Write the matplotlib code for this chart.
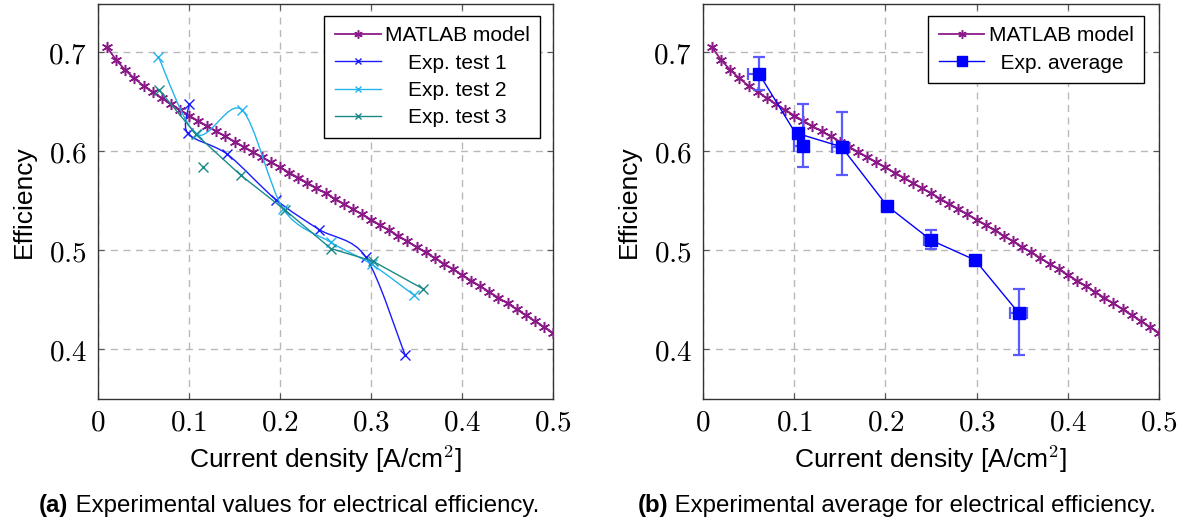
import numpy as np
import matplotlib
matplotlib.use("Agg")
import matplotlib.pyplot as plt
from matplotlib.path import Path
from matplotlib.patches import PathPatch
from matplotlib.lines import Line2D

plt.rcParams["font.family"] = ["Liberation Sans", "DejaVu Sans"]
plt.rcParams["mathtext.fontset"] = "cm"

# MATLAB model curve
model_x = [0.01, 0.02, 0.03, 0.04, 0.05, 0.06, 0.07, 0.08, 0.09, 0.10,
           0.11, 0.12, 0.13, 0.14, 0.15, 0.16, 0.17, 0.18, 0.19, 0.20,
           0.21, 0.22, 0.23, 0.24, 0.25, 0.26, 0.27, 0.28, 0.29, 0.30,
           0.31, 0.32, 0.33, 0.34, 0.35, 0.36, 0.37, 0.38, 0.39, 0.40,
           0.41, 0.42, 0.43, 0.44, 0.45, 0.46, 0.47, 0.48, 0.49, 0.50]
model_eff = [0.7047, 0.6919, 0.6818, 0.6734, 0.6660, 0.6597, 0.6535, 0.6475, 0.6418, 0.6360,
             0.6306, 0.6253, 0.6201, 0.6149, 0.6097, 0.6045, 0.5993, 0.5941, 0.5889, 0.5837,
             0.5785, 0.5733, 0.5681, 0.5628, 0.5575, 0.5522, 0.5469, 0.5416, 0.5363, 0.5310,
             0.5255, 0.5200, 0.5145, 0.5090, 0.5034, 0.4978, 0.4922, 0.4866, 0.4809, 0.4752,
             0.4695, 0.4638, 0.4580, 0.4522, 0.4464, 0.4405, 0.4346, 0.4287, 0.4227, 0.4167]

# experimental tests
test1_x = [0.1004, 0.0985, 0.142, 0.1956, 0.243, 0.294, 0.3374]
test1_eff = [0.648, 0.618, 0.597, 0.551, 0.521, 0.4936, 0.3944]
test2_x = [0.0663, 0.1084, 0.158, 0.2037, 0.256, 0.3007, 0.3476]
test2_eff = [0.6953, 0.617, 0.6418, 0.5414, 0.508, 0.4859, 0.4545]
test3_x = [0.0674, 0.1077, 0.1568, 0.2055, 0.256, 0.3018, 0.3568]
test3_eff = [0.6616, 0.617, 0.5758, 0.5407, 0.5017, 0.4892, 0.4613]
test3_extra_x = [0.115]
test3_extra_eff = [0.584]

# experimental average with spread (lower / upper)
avg_x = [0.0617, 0.1099, 0.1037, 0.1519, 0.2019, 0.2505, 0.2983, 0.346]
avg_eff = [0.6778, 0.6054, 0.6179, 0.6044, 0.5448, 0.510, 0.4902, 0.437]
avg_xerr_lo = [0.0127, 0.0099, 0.003, 0.0103, 0.006, 0.0086, 0.002, 0.009]
avg_xerr_hi = [0.003, 0.003, 0.003, 0.003, 0.003, 0.003, 0.002, 0.009]
avg_yerr_lo = [0.0162, 0.021, 0.003, 0.0286, 0.004, 0.0083, 0.003, 0.0427]
avg_yerr_hi = [0.0175, 0.0426, 0.003, 0.0353, 0.004, 0.0105, 0.003, 0.0236]

xticks = [0, 0.1, 0.2, 0.3, 0.4, 0.5]
yticks = [0.4, 0.5, 0.6, 0.7]

PURPLE = "#8b1a89"
BLUE = "#1a1aff"
CYAN = "#22b4ee"
TEAL = "#1a8a88"

FS = 19
TICK_FS = 21
LEG_FS = 15
CAP_FS = 17.3


def smooth_path(xs, ys, tension=0.55):
    # cubic bezier through the points, like tikz "smooth"
    pts = np.column_stack([xs, ys])
    n = len(pts)
    k = 0.2775 * tension
    verts = [pts[0]]
    codes = [Path.MOVETO]
    for i in range(n - 1):
        p0 = pts[max(i - 1, 0)]
        p1 = pts[i]
        p2 = pts[i + 1]
        p3 = pts[min(i + 2, n - 1)]
        verts += [p1 + (p2 - p0) * k, p2 - (p3 - p1) * k, p2]
        codes += [Path.CURVE4] * 3
    return Path(verts, codes)


def style_axes(ax):
    ax.set_xlim(0, 0.5)
    ax.set_ylim(0.35, 0.7485)
    ax.set_xticks(xticks)
    ax.set_yticks(yticks)
    ax.set_xticklabels([f"${t:g}$" for t in xticks], fontsize=TICK_FS)
    ax.set_yticklabels([f"${t:g}$" for t in yticks], fontsize=TICK_FS)
    ax.tick_params(direction="in", length=4, width=0.8, color="#555555",
                   top=True, right=True)
    ax.tick_params(axis="x", pad=7)
    ax.tick_params(axis="y", pad=8)
    ax.grid(True, color="#b8b8b8", linestyle=(0, (5, 4)), linewidth=1.0)
    ax.set_axisbelow(True)
    for s in ax.spines.values():
        s.set_color("#333333")
        s.set_linewidth(1.0)
    ax.set_xlabel("Current density [A/cm$^2$]", fontsize=FS, labelpad=5)
    ax.set_ylabel("Efficiency", fontsize=FS, labelpad=9)


fig = plt.figure(figsize=(11.82, 5.24), dpi=100)
ax1 = fig.add_axes([98 / 1182, 1 - 399 / 524, 455 / 1182, 395 / 524])
ax2 = fig.add_axes([703 / 1182, 1 - 399 / 524, 456 / 1182, 395 / 524])

model_kw = dict(color=PURPLE, lw=1.3, marker=(6, 2, 0), ms=8, mew=1.1)
leg_kw = dict(loc="upper right", borderaxespad=0, fontsize=LEG_FS, fancybox=False,
              edgecolor="black", framealpha=1, handlelength=2.2, handletextpad=0.2,
              labelspacing=0.4, borderpad=0.5)

# (a) individual tests
ax1.plot(model_x, model_eff, **model_kw, zorder=3)
ax1.add_patch(PathPatch(smooth_path(test1_x, test1_eff), fill=False, edgecolor=BLUE, lw=1.0, zorder=4))
ax1.plot(test1_x, test1_eff, ls="none", marker="x", color=BLUE, ms=6.5, mew=1.0, zorder=4)
ax1.add_patch(PathPatch(smooth_path(test2_x, test2_eff), fill=False, edgecolor=CYAN, lw=1.0, zorder=4))
ax1.plot(test2_x, test2_eff, ls="none", marker="x", color=CYAN, ms=6.5, mew=1.0, zorder=4)
ax1.plot(test3_x, test3_eff, color=TEAL, lw=1.0, marker="x", ms=6.5, mew=1.0, zorder=4)
ax1.plot(test3_extra_x, test3_extra_eff, ls="none", marker="x", color=TEAL, ms=6.5, mew=1.0, zorder=4)
style_axes(ax1)

h1 = [Line2D([], [], color=PURPLE, lw=1.3, marker=(6, 2, 0), ms=6, mew=1.1),
      Line2D([], [], color=BLUE, lw=1.0, marker="x", ms=5, mew=1.0),
      Line2D([], [], color=CYAN, lw=1.0, marker="x", ms=5, mew=1.0),
      Line2D([], [], color=TEAL, lw=1.0, marker="x", ms=5, mew=1.0)]
leg1 = ax1.legend(h1, ["MATLAB model", "    Exp. test 1", "    Exp. test 2", "    Exp. test 3"],
                  bbox_to_anchor=(0.9714, 0.9696), **leg_kw)
leg1.get_frame().set_linewidth(1.0)

# (b) average
ax2.plot(model_x, model_eff, **model_kw, zorder=3)
ax2.errorbar(avg_x, avg_eff, xerr=[avg_xerr_lo, avg_xerr_hi], yerr=[avg_yerr_lo, avg_yerr_hi],
             fmt="none", ecolor="#5a5aff", elinewidth=1.6, capsize=4.5, capthick=1.6, zorder=4)
ax2.plot(avg_x, avg_eff, color="#0000ff", lw=1.0, marker="s", ms=9, zorder=5)
style_axes(ax2)

h2 = [Line2D([], [], color=PURPLE, lw=1.3, marker=(6, 2, 0), ms=6, mew=1.1),
      Line2D([], [], color="#0000ff", lw=1.0, marker="s", ms=7)]
leg2 = ax2.legend(h2, ["MATLAB model", "  Exp. average"],
                  bbox_to_anchor=(0.967, 0.9696), **leg_kw)
leg2.get_frame().set_linewidth(1.0)


# captions with bold prefix
def caption(xc_px, tag, text):
    t1 = fig.text(0, 0, tag, fontsize=CAP_FS, fontweight="bold")
    t2 = fig.text(0, 0, " " + text, fontsize=CAP_FS)
    fig.canvas.draw()
    r = fig.canvas.get_renderer()
    w1 = t1.get_window_extent(r).width
    w2 = t2.get_window_extent(r).width
    x0 = xc_px - (w1 + w2) / 2
    yb = 524 - 512
    t1.set_position((x0 / 1182, yb / 524))
    t2.set_position(((x0 + w1) / 1182, yb / 524))


caption(289, "(a)", "Experimental values for electrical efficiency.")
caption(897, "(b)", "Experimental average for electrical efficiency.")

fig.savefig("out.png", dpi=100)
